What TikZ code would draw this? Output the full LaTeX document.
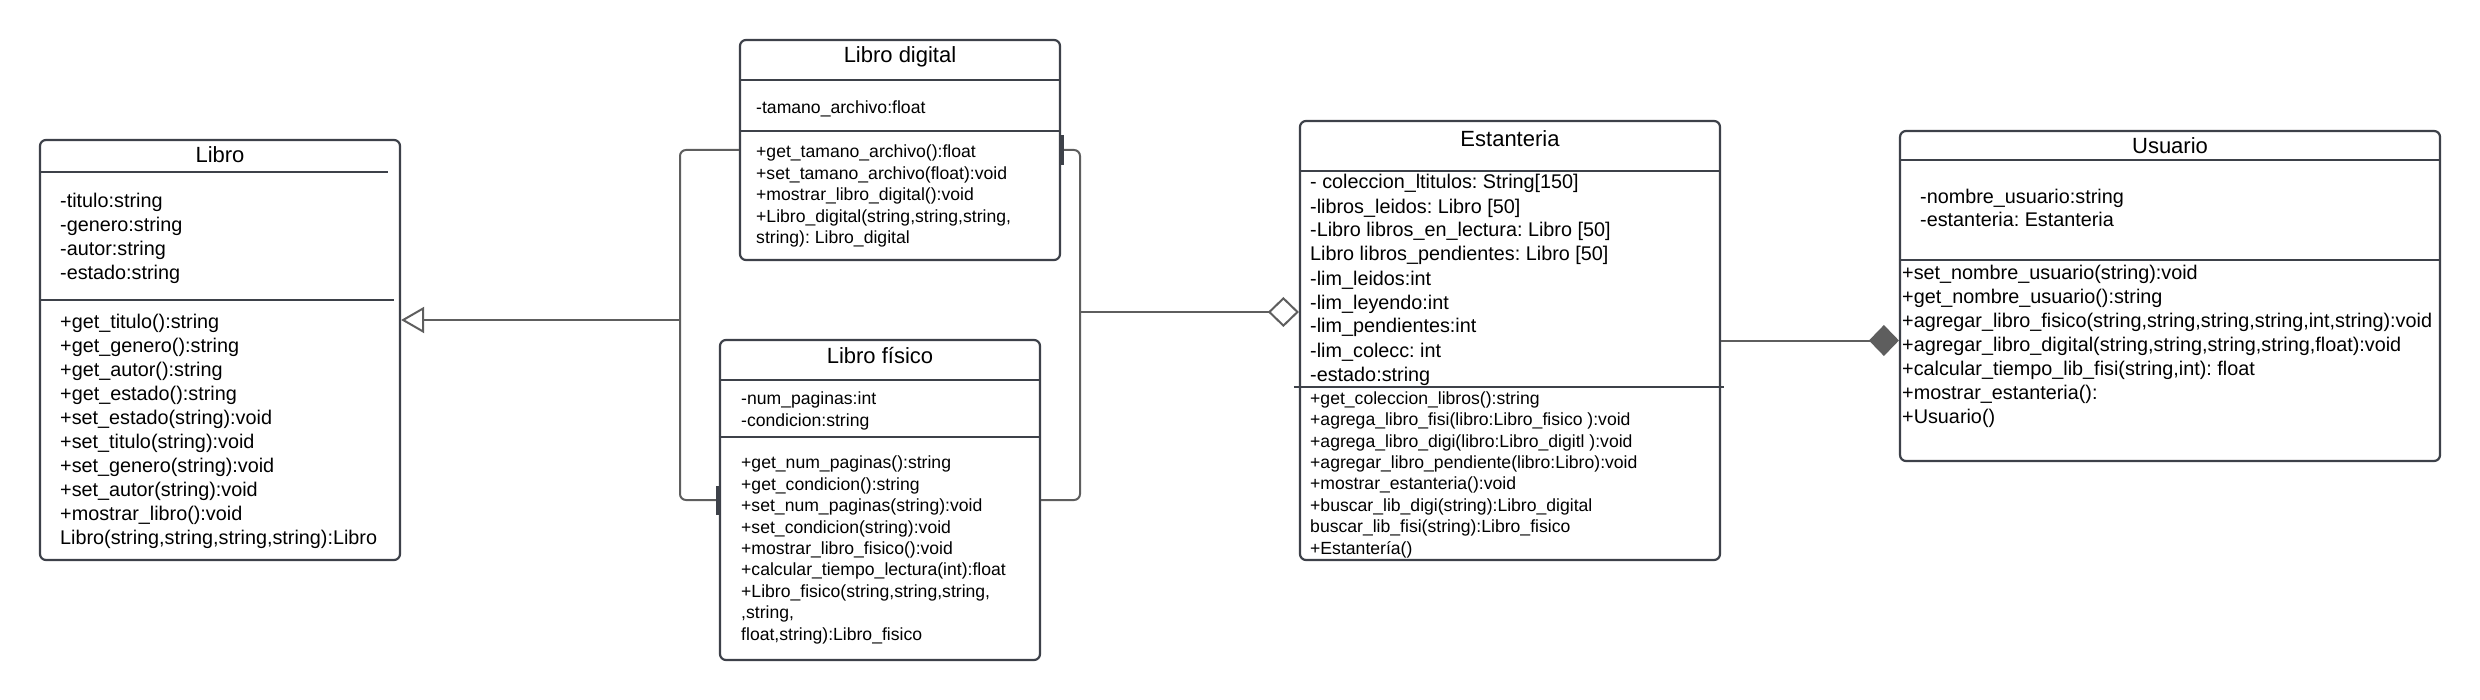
\documentclass[tikz,border=0pt]{standalone}
\usepackage{fontspec}
\setmainfont{Liberation Sans}
\usepackage{tikz}
\usetikzlibrary{arrows.meta}
\definecolor{boxline}{HTML}{3D4149}
\definecolor{linkgray}{HTML}{5E5E5E}
\frenchspacing
\begin{document}
\begin{tikzpicture}[x=1pt,y=-1pt,
    cls/.style={draw=boxline,line width=2.2pt,rounded corners=6pt,inner sep=0pt},
    sep/.style={draw=boxline,line width=2.2pt},
    link/.style={draw=linkgray,line width=2pt,rounded corners=6pt},
    tick/.style={draw=boxline,line width=3pt},
    ttl/.style={font=\fontsize{22}{26}\selectfont,anchor=base,inner sep=0pt},
    big/.style={font=\fontsize{19.8}{24}\selectfont,align=left,anchor=base west,inner sep=0pt},
    sml/.style={font=\fontsize{17.6}{21.4}\selectfont,align=left,anchor=base west,inner sep=0pt}]
  \useasboundingbox (0,0) rectangle (2480,700);
  \node[cls,minimum width=360pt,minimum height=420pt] (libro) at (220,350) {};
  \node[cls,minimum width=320pt,minimum height=220pt] (digital) at (900,150) {};
  \node[cls,minimum width=320pt,minimum height=320pt] (fisico) at (880,500) {};
  \node[cls,minimum width=420pt,minimum height=439pt] (estanteria) at (1510,340.5) {};
  \node[cls,minimum width=540pt,minimum height=330pt] (usuario) at (2170,296) {};
  \draw[sep] (libro.north west) ++(0,33) -- ++(349,0);
  \draw[sep] (libro.north west) ++(0,161) -- ++(355,0);
  \draw[sep] (digital.north west) ++(0,41) -- ++(320,0);
  \draw[sep] (digital.north west) ++(0,92) -- ++(320,0);
  \draw[sep] (fisico.north west) ++(0,41) -- ++(320,0);
  \draw[sep] (fisico.north west) ++(0,98) -- ++(320,0);
  \draw[sep] (estanteria.north west) ++(0,51) -- ++(420,0);
  \draw[sep] (estanteria.north west) ++(-5,267) -- ++(430,0);
  \draw[sep] (usuario.north west) ++(0,30) -- ++(540,0);
  \draw[sep] (usuario.north west) ++(0,130) -- ++(540,0);
  \node[ttl] (librot) at (220,163) {Libro};
  \node[big] (libroa) at (60,280) {-titulo:string\\-genero:string\\-autor:string\\-estado:string};
  \node[big] (librom) at (60,544) {+get\_titulo():string\\+get\_genero():string\\+get\_autor():string\\+get\_estado():string\\+set\_estado(string):void\\+set\_titulo(string):void\\+set\_genero(string):void\\+set\_autor(string):void\\+mostrar\_libro():void\\Libro(string,string,string,string):Libro};
  \node[ttl] (digitalt) at (900,63) {Libro digital};
  \node[sml] (digitala) at (756,114) {-tamano\_archivo:float};
  \node[sml] (digitalm) at (756,243.6) {+get\_tamano\_archivo():float\\+set\_tamano\_archivo(float):void\\+mostrar\_libro\_digital():void\\+Libro\_digital(string,string,string,\\string): Libro\_digital};
  \node[ttl] (fisicot) at (880,363) {Libro físico};
  \node[sml] (fisicoa) at (741,426) {-num\_paginas:int\\-condicion:string};
  \node[sml] (fisicom) at (741,640) {+get\_num\_paginas():string\\+get\_condicion():string\\+set\_num\_paginas(string):void\\+set\_condicion(string):void\\+mostrar\_libro\_fisico():void\\+calcular\_tiempo\_lectura(int):float\\+Libro\_fisico(string,string,string,\\,string,\\float,string):Libro\_fisico};
  \node[ttl] (estanteriat) at (1510,147) {Estanteria};
  \node[big] (estanteriaa) at (1310,381) {- coleccion\_ltitulos: String[150]\\-libros\_leidos: Libro [50]\\-Libro libros\_en\_lectura: Libro [50]\\Libro libros\_pendientes: Libro [50]\\-lim\_leidos:int\\-lim\_leyendo:int\\-lim\_pendientes:int\\-lim\_colecc: int\\-estado:string};
  \node[sml] (estanteriam) at (1310,554) {+get\_coleccion\_libros():string\\+agrega\_libro\_fisi(libro:Libro\_fisico ):void\\+agrega\_libro\_digi(libro:Libro\_digitl ):void\\+agregar\_libro\_pendiente(libro:Libro):void\\+mostrar\_estanteria():void\\+buscar\_lib\_digi(string):Libro\_digital\\buscar\_lib\_fisi(string):Libro\_fisico\\+Estantería()};
  \node[ttl] (usuariot) at (2170,154) {Usuario};
  \node[big,font=\fontsize{19.8}{23}\selectfont] (usuarioa) at (1920,227) {-nombre\_usuario:string\\-estanteria: Estanteria};
  \node[big] (usuariom) at (1902,423) {+set\_nombre\_usuario(string):void\\+get\_nombre\_usuario():string\\+agregar\_libro\_fisico(string,string,string,string,int,string):void\\+agregar\_libro\_digital(string,string,string,string,float):void\\+calcular\_tiempo\_lib\_fisi(string,int): float\\+mostrar\_estanteria():\\+Usuario()};
  \coordinate (jl) at (680,320);
  \coordinate (jr) at (1080,312);
  \draw[link] (digital.west) -| (jl) |- (fisico.west);
  \draw[link] (digital.east) -| (jr) |- (fisico.east);
  \draw[tick] ([xshift=1.5pt,yshift=-15pt]digital.east) -- ([xshift=1.5pt,yshift=15pt]digital.east);
  \draw[tick] ([xshift=-1.5pt,yshift=-15pt]fisico.west) -- ([xshift=-1.5pt,yshift=14pt]fisico.west);
  \draw[link,-{Triangle[open,fill=white,length=23pt,width=26pt]}] (jl) -- (libro.east |- jl);
  \draw[link,-{Diamond[open,fill=white,length=31pt,width=30pt]}] (jr) -- (estanteria.west |- jr);
  \draw[link,-{Diamond[fill=linkgray,length=30pt,width=31pt]}] (estanteria.east) -- (usuario.west |- estanteria.east);
\end{tikzpicture}
\end{document}
